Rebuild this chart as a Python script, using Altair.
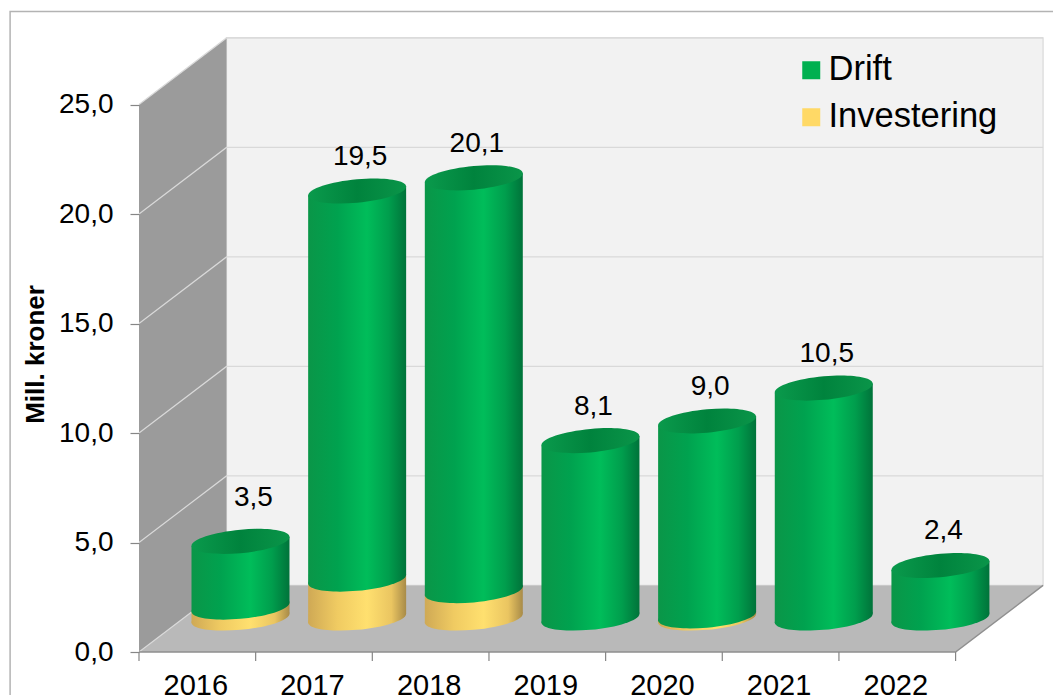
import altair as alt
import pandas as pd

# Values per year, in million kroner
years = [2016, 2017, 2018, 2019, 2020, 2021, 2022]
drift = [3.0, 17.72, 18.85, 8.1, 8.9, 10.5, 2.4]
investering = [0.5, 1.78, 1.25, 0.0, 0.1, 0.0, 0.0]
y_ticks = [0, 5, 10, 15, 20, 25]

FONT = "Liberation Sans"

# 3D box: how far the back wall sits behind the front plane, in axis units
DEPTH_X = 0.75
DEPTH_Y = 3.04
X_MIN, X_MAX = 2015.5, 2023.335
Y_MAX = 29.772
FRONT_RIGHT = 2022.5
BACK_LEFT = X_MIN + DEPTH_X
BACK_RIGHT = FRONT_RIGHT + DEPTH_X

# Cylinders stand halfway into the box
MID_X = 0.37
MID_Y = 1.55
HALF_W = 0.42
TILT = 0.21
CYL_PX = 98


def ellipse_path(minor=0.24, shear=0.09, k=0.5523):
    """Sheared ellipse as a unit symbol: right end rises, left end drops."""
    ax, ay = 1.0, -shear
    bx, by = 0.0, minor
    def pt(x, y):
        return f"{x:.4f},{y:.4f}"
    return (
        f"M{pt(ax, ay)}"
        f"C{pt(ax + k * bx, ay + k * by)} {pt(bx + k * ax, by + k * ay)} {pt(bx, by)}"
        f"C{pt(bx - k * ax, by - k * ay)} {pt(-ax + k * bx, -ay + k * by)} {pt(-ax, -ay)}"
        f"C{pt(-ax - k * bx, -ay - k * by)} {pt(-bx - k * ax, -by - k * ay)} {pt(-bx, -by)}"
        f"C{pt(-bx + k * ax, -by + k * ay)} {pt(ax - k * bx, ay - k * by)} {pt(ax, ay)}Z"
    )


def h_gradient(stops):
    return alt.Gradient(
        gradient="linear",
        x1=0, x2=1, y1=0, y2=0,
        stops=[alt.GradientStop(offset=o, color=c) for o, c in stops],
    )


green_side = h_gradient([(0, "#0a9648"), (0.3, "#00a24f"), (0.6, "#00bd5a"), (0.82, "#009e4d"), (1, "#00733a")])
green_cap = h_gradient([(0, "#0a9a4c"), (0.5, "#00833d"), (1, "#0a9549")])
yellow_side = h_gradient([(0, "#cfa955"), (0.3, "#f0cb62"), (0.6, "#ffe06f"), (0.85, "#eac561"), (1, "#a88b48")])

x_scale = alt.Scale(domain=[X_MIN, X_MAX], nice=False, zero=False)
y_scale = alt.Scale(domain=[0, Y_MAX], nice=False, zero=False)

# Both axes are repeated on every layer so they survive layer merging
y_axis = alt.Axis(
    values=y_ticks,
    labelExpr="replace(format(datum.value, '.1f'), '.', ',')",
    labelFont=FONT, labelFontSize=28, labelColor="#000000", labelPadding=17,
    tickColor="#868686", tickSize=9, tickWidth=1.2,
    domain=False, grid=False, zindex=1,
    titleFont=FONT, titleFontSize=26, titleFontWeight="bold",
    titleColor="#000000", titleX=-104, titleY=354, titleAlign="center", titleBaseline="middle",
)
x_axis = alt.Axis(
    values=years, format="d",
    labelFont=FONT, labelFontSize=29, labelColor="#000000", labelPadding=19, labelOffset=-2,
    tickSize=0, domain=False, grid=False, zindex=1, labelFlush=False,
)


def X(field):
    return alt.X(f"{field}:Q", scale=x_scale, axis=x_axis, title=None)


def Y(field):
    return alt.Y(f"{field}:Q", scale=y_scale, axis=y_axis, title="Mill. kroner", stack=None)


# Cylinder segments: one body per year and series
rows, caps, bottoms = [], [], []
for yr, d, inv in zip(years, drift, investering):
    cx = yr + MID_X
    total = d + inv
    if inv > 0:
        for side, sign in ((cx - HALF_W, -1), (cx + HALF_W, 1)):
            rows.append(dict(year=yr, series="Investering", x=side,
                             lo=MID_Y + sign * TILT, hi=MID_Y + inv + sign * TILT))
        bottoms.append(dict(year=yr, series="Investering", x=cx, y=MID_Y))
    for side, sign in ((cx - HALF_W, -1), (cx + HALF_W, 1)):
        rows.append(dict(year=yr, series="Drift", x=side,
                         lo=MID_Y + inv + sign * TILT, hi=MID_Y + total + sign * TILT))
    bottoms.append(dict(year=yr, series="Drift", x=cx, y=MID_Y + inv))
    caps.append(dict(year=yr, x=cx, y=MID_Y + total,
                     label=f"{total:.1f}".replace(".", ",")))

bodies = pd.DataFrame(rows)
bases = pd.DataFrame(bottoms)
tops = pd.DataFrame(caps)

# Outer frame of the chart, running off the right and bottom edges
frame = pd.DataFrame([dict(x=2014.395, x2=2025, y=29.25, y2=-4)])

frame_layer = alt.Chart(frame).mark_rect(fill="#ffffff", stroke="#b3b3b3", strokeWidth=1.5).encode(
    x=X("x"), x2="x2:Q", y=Y("y"), y2="y2:Q",
)

# Back wall, left wall and floor of the box
back_wall = alt.Chart(pd.DataFrame([dict(x=BACK_LEFT, x2=BACK_RIGHT, y=25 + DEPTH_Y, y2=DEPTH_Y)])).mark_rect(
    fill="#f2f2f2", stroke="#d9d9d9", strokeWidth=1.2
).encode(x=X("x"), x2="x2:Q", y=Y("y"), y2="y2:Q")

left_wall = alt.Chart(pd.DataFrame([
    dict(x=X_MIN, hi=25, lo=0),
    dict(x=BACK_LEFT, hi=25 + DEPTH_Y, lo=DEPTH_Y),
])).mark_area(color="#9b9b9b").encode(x=X("x"), y=Y("hi"), y2="lo:Q")

floor = alt.Chart(pd.DataFrame([
    dict(x=X_MIN, hi=0, lo=0),
    dict(x=BACK_LEFT, hi=DEPTH_Y, lo=0),
    dict(x=FRONT_RIGHT, hi=DEPTH_Y, lo=0),
    dict(x=BACK_RIGHT, hi=DEPTH_Y, lo=DEPTH_Y),
])).mark_area(color="#b9b9b9").encode(x=X("x"), y=Y("hi"), y2="lo:Q")

# Gridlines bend at the corner between the left wall and the back wall
grid_rows = []
for v in y_ticks[1:]:
    grid_rows += [
        dict(v=v, x=X_MIN, y=v, o=0),
        dict(v=v, x=BACK_LEFT, y=v + DEPTH_Y, o=1),
        dict(v=v, x=BACK_RIGHT, y=v + DEPTH_Y, o=2),
    ]
grid = alt.Chart(pd.DataFrame(grid_rows)).mark_line(color="#d9d9d9", strokeWidth=1.2).encode(
    x=X("x"), y=Y("y"), detail="v:N", order="o:Q"
)

floor_edge_left = alt.Chart(pd.DataFrame([
    dict(x=X_MIN, y=0), dict(x=BACK_LEFT, y=DEPTH_Y),
])).mark_line(color="#d9d9d9", strokeWidth=1.2).encode(x=X("x"), y=Y("y"))

floor_edge_front = alt.Chart(pd.DataFrame([
    dict(x=X_MIN, y=0), dict(x=FRONT_RIGHT, y=0), dict(x=BACK_RIGHT, y=DEPTH_Y),
])).mark_line(color="#8f8f8f", strokeWidth=1.4).encode(x=X("x"), y=Y("y"))

# Category ticks sit on the boundaries between years
x_ticks = pd.DataFrame({"x": [y - 0.5 for y in years] + [years[-1] + 0.5], "y": 0.0, "y2": -0.41})
tick_layer = alt.Chart(x_ticks).mark_rule(color="#868686", strokeWidth=1.2).encode(
    x=X("x"), y=Y("y"), y2="y2:Q"
)

ELLIPSE = ellipse_path()


def body(series, fill):
    return alt.Chart(bodies[bodies.series == series]).mark_area(color=fill).encode(
        x=X("x"), y=Y("hi"), y2="lo:Q", detail="year:N"
    )


def base(series, fill):
    return alt.Chart(bases[bases.series == series]).mark_point(
        shape=ELLIPSE, filled=True, color=fill, size=CYL_PX ** 2, opacity=1
    ).encode(x=X("x"), y=Y("y"))


cap_layer = alt.Chart(tops).mark_point(
    shape=ELLIPSE, filled=True, color=green_cap, size=CYL_PX ** 2, opacity=1
).encode(x=X("x"), y=Y("y"))

# The 2016 label sits further up and to the right of its short cylinder
label_layer = alt.Chart(tops[tops.year != 2016]).mark_text(
    font=FONT, fontSize=28, color="#000000", dx=3, dy=-34
).encode(x=X("x"), y=Y("y"), text="label:N")
first_label_layer = alt.Chart(tops[tops.year == 2016]).mark_text(
    font=FONT, fontSize=28, color="#000000", dx=13, dy=-43
).encode(x=X("x"), y=Y("y"), text="label:N")

# Zero-sized points only carry the series legend
legend_layer = alt.Chart(bases).mark_square(size=0, opacity=1, filled=True).encode(
    x=X("x"), y=Y("y"),
    color=alt.Color(
        "series:N",
        scale=alt.Scale(domain=["Drift", "Investering"], range=["#00b050", "#ffd966"]),
        legend=alt.Legend(
            title=None, orient="none", legendX=655, legendY=53, padding=0,
            symbolType="square", symbolSize=324, symbolStrokeWidth=0,
            labelFont=FONT, labelFontSize=34.5, labelColor="#000000", labelOffset=0,
            rowPadding=12, labelLimit=300,
        ),
    ),
)

chart = alt.layer(
    frame_layer, back_wall, left_wall, floor, grid, floor_edge_left, floor_edge_front, tick_layer,
    body("Investering", yellow_side), base("Investering", yellow_side),
    base("Drift", green_side), body("Drift", green_side),
    cap_layer, label_layer, first_label_layer, legend_layer,
).properties(
    width=914, height=652,
    padding={"left": 139, "top": 0, "right": 0, "bottom": 43},
    autosize=alt.AutoSizeParams(type="none"),
    background="#ffffff",
).configure_view(stroke=None)

chart.save("out.html", embed_options={"renderer": "svg", "actions": False})
